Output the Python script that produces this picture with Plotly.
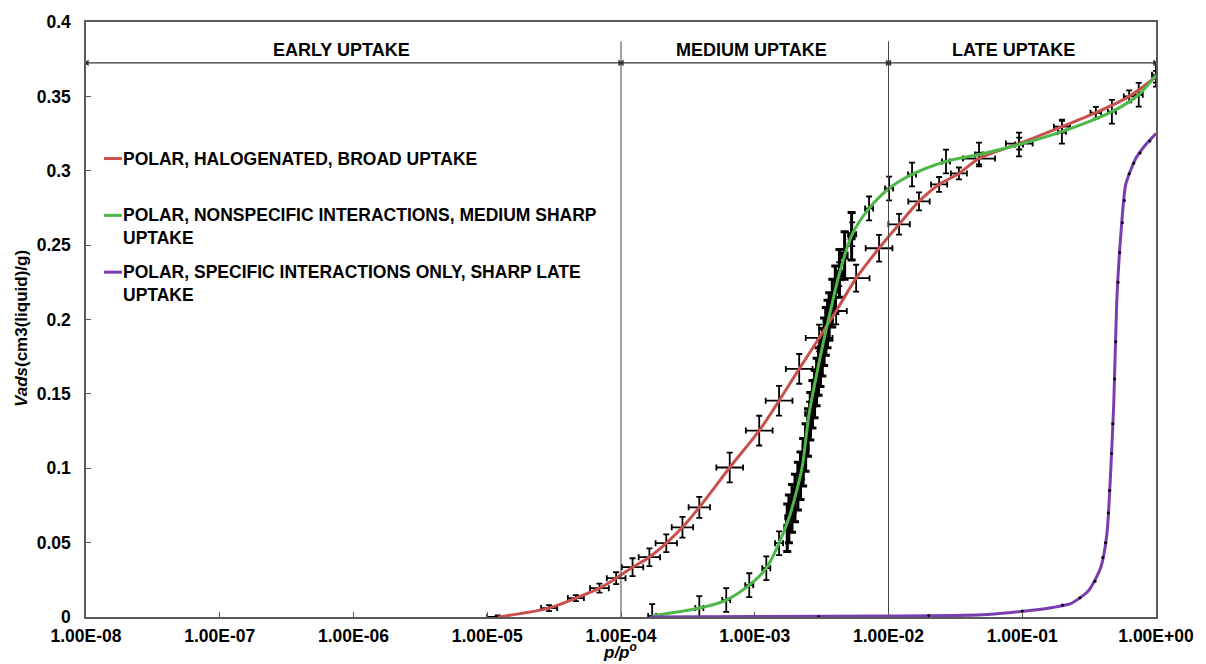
import math
import plotly.graph_objects as go

# ---------------- data ----------------
x_ticks = [1e-8, 1e-7, 1e-6, 1e-5, 1e-4, 1e-3, 1e-2, 1e-1, 1.0]
x_ticktext = ["1.00E-08", "1.00E-07", "1.00E-06", "1.00E-05", "1.00E-04",
              "1.00E-03", "1.00E-02", "1.00E-01", "1.00E+00"]
y_ticks = [0, 0.05, 0.1, 0.15, 0.2, 0.25, 0.3, 0.35, 0.4]
y_ticktext = ["0", "0.05", "0.1", "0.15", "0.2", "0.25", "0.3", "0.35", "0.4"]

red_name = "POLAR, HALOGENATED, BROAD UPTAKE"
red_x = [1.2e-5, 2.9e-5, 4.6e-5, 6.9e-5, 9.2e-5, 1.22e-4, 1.63e-4, 2.18e-4, 2.88e-4,
         3.85e-4, 6.5e-4, 1.08e-3, 1.52e-3, 2.15e-3, 3.03e-3, 4.06e-3, 5.73e-3,
         8.5e-3, 1.2e-2, 1.69e-2, 2.39e-2, 3.36e-2, 4.75e-2, 9.5e-2, 0.198, 0.355,
         0.63, 1.0]
red_y = [0.0, 0.006, 0.0127, 0.0194, 0.0261, 0.0335, 0.0402, 0.0496, 0.0603,
         0.0737, 0.1005, 0.1253, 0.1454, 0.1668, 0.1876, 0.2057, 0.2278,
         0.2479, 0.264, 0.2794, 0.2908, 0.2982, 0.3082, 0.3183, 0.3296, 0.339,
         0.350, 0.3632]
red_yerr = [0.001, 0.002, 0.002, 0.003, 0.004, 0.006, 0.006, 0.006, 0.007,
            0.007, 0.01, 0.01, 0.01, 0.01, 0.009, 0.009, 0.009,
            0.009, 0.007, 0.006, 0.005, 0.004, 0.004, 0.004, 0.004, 0.004,
            0.004, 0.004]
red_xerr_dec = [0.08, 0.06, 0.06, 0.07, 0.07, 0.08, 0.08, 0.08, 0.08,
                0.08, 0.1, 0.1, 0.1, 0.1, 0.1, 0.08, 0.1,
                0.1, 0.08, 0.08, 0.06, 0.06, 0.12, 0.1, 0.06, 0.04,
                0.04, 0.02]

green_name = "POLAR, NONSPECIFIC INTERACTIONS, MEDIUM SHARP<br>UPTAKE"
green_x = [1.71e-4, 3.85e-4, 6.12e-4, 9.1e-4, 1.22e-3, 1.52e-3, 1.81e-3, 1.97e-3,
           2.26e-3, 2.55e-3, 3.19e-3, 3.72e-3, 4.28e-3, 5.35e-3, 7.16e-3, 1.01e-2,
           1.5e-2, 2.69e-2, 4.75e-2, 9.46e-2, 0.198, 0.468, 0.743, 1.0]
green_y = [0.0007, 0.006, 0.0114, 0.0214, 0.0328, 0.0496, 0.067, 0.0784,
           0.1005, 0.1367, 0.1809, 0.2077, 0.2305, 0.2573, 0.2747, 0.2881,
           0.2975, 0.3062, 0.3109, 0.3176, 0.3263, 0.3397, 0.3511, 0.3645]
# dense measured points in the steep part of the green isotherm
green_meas_x = [1.75e-3, 1.8e-3, 1.9e-3, 2.0e-3, 2.1e-3, 2.2e-3, 2.3e-3, 2.4e-3, 2.5e-3,
                2.6e-3, 2.7e-3, 2.8e-3, 2.9e-3, 3.0e-3, 3.1e-3, 3.2e-3, 3.3e-3, 3.4e-3,
                3.5e-3, 3.6e-3, 3.8e-3, 4.0e-3, 4.3e-3, 4.7e-3, 5.3e-3]
green_meas_y = [0.060, 0.066, 0.073, 0.080, 0.088, 0.095, 0.104, 0.114, 0.124,
                0.135, 0.143, 0.150, 0.158, 0.165, 0.171, 0.178, 0.185, 0.192,
                0.197, 0.202, 0.211, 0.220, 0.231, 0.243, 0.256]

purple_name = "POLAR, SPECIFIC INTERACTIONS ONLY, SHARP LATE<br>UPTAKE"
purple_x = [1.63e-4, 1e-3, 1e-2, 5e-2, 0.133, 0.235, 0.315, 0.387, 0.43, 0.46,
            0.484, 0.509, 0.546, 0.594, 0.706, 0.839, 1.0]
purple_y = [0.0, 0.0003, 0.0006, 0.0015, 0.005, 0.0094, 0.018, 0.0335, 0.0563,
            0.1005, 0.1454, 0.2124, 0.2573, 0.2908, 0.3082, 0.3176, 0.325]
# measured points (small black dots) along the purple isotherm
purple_meas_x = [3e-3, 2e-2, 0.1, 0.2, 0.27, 0.35, 0.40, 0.42, 0.44, 0.45, 0.465,
                 0.475, 0.49, 0.50, 0.52, 0.535, 0.56, 0.58, 0.63, 0.68, 0.76, 0.9]
purple_meas_y = [0.0004, 0.001, 0.004, 0.008, 0.013, 0.024, 0.04, 0.05, 0.07, 0.085,
                 0.11, 0.13, 0.16, 0.185, 0.225, 0.245, 0.265, 0.28, 0.298, 0.305,
                 0.312, 0.32]

regions = ["EARLY UPTAKE", "MEDIUM UPTAKE", "LATE UPTAKE"]
region_bounds = [1e-8, 1e-4, 1e-2, 1.0]
region_label_x = [8.17e-7, 9.42e-4, 8.53e-2]

# ---------------- styles ----------------
RED = "#C9504B"
GREEN = "#4DB848"
PURPLE = "#7A3DB0"
FONT = "Liberation Sans, Arial, Helvetica, sans-serif"
AXIS_COL = "#5a5a5a"


def xerr(xs, decs):
    plus = [x * (10 ** d - 1) for x, d in zip(xs, decs)]
    minus = [x * (1 - 10 ** (-d)) for x, d in zip(xs, decs)]
    return plus, minus


fig = go.Figure()

# measured points with error bars (black)
rp, rm = xerr(red_x, red_xerr_dec)
fig.add_trace(go.Scatter(
    x=red_x, y=red_y, mode="markers", showlegend=False, hoverinfo="skip",
    marker=dict(size=2, color="black"),
    error_x=dict(type="data", array=rp, arrayminus=rm, color="black", thickness=1.8, width=3),
    error_y=dict(type="data", array=red_yerr, color="black", thickness=1.8, width=3),
))
gp, gm = xerr(green_x, [0.03] * len(green_x))
fig.add_trace(go.Scatter(
    x=green_x, y=green_y, mode="markers", showlegend=False, hoverinfo="skip",
    marker=dict(size=2, color="black"),
    error_x=dict(type="data", array=gp, arrayminus=gm, color="black", thickness=1.8, width=3),
    error_y=dict(type="data", array=[0.008] * len(green_y), color="black", thickness=1.8, width=3),
))
gmp, gmm = xerr(green_meas_x, [0.02] * len(green_meas_x))
fig.add_trace(go.Scatter(
    x=green_meas_x, y=green_meas_y, mode="markers", showlegend=False, hoverinfo="skip",
    marker=dict(size=4, color="black"),
    error_x=dict(type="data", array=gmp, arrayminus=gmm, color="black", thickness=2.5, width=4),
    error_y=dict(type="data", array=[0.016] * len(green_meas_y), color="black", thickness=3, width=4),
))

# fitted isotherm lines
fig.add_trace(go.Scatter(x=red_x, y=red_y, mode="lines", name=red_name, showlegend=False,
                         line=dict(color=RED, width=3, shape="spline", smoothing=0.8)))
fig.add_trace(go.Scatter(x=green_x, y=green_y, mode="lines", name=green_name, showlegend=False,
                         line=dict(color=GREEN, width=3, shape="spline", smoothing=0.8)))
fig.add_trace(go.Scatter(x=purple_x, y=purple_y, mode="lines", name=purple_name, showlegend=False,
                         line=dict(color=PURPLE, width=3, shape="spline", smoothing=0.6)))
fig.add_trace(go.Scatter(x=purple_meas_x, y=purple_meas_y, mode="markers", showlegend=False,
                         hoverinfo="skip", marker=dict(size=3, color="black")))

# region separators
for b in region_bounds[1:-1]:
    fig.add_trace(go.Scatter(x=[b, b], y=[0, 0.387], mode="lines", showlegend=False,
                             hoverinfo="skip", line=dict(color="#444444", width=1)))

# double-headed arrows marking the uptake regions
arrow_y = 0.3725
for i in range(len(regions)):
    x0 = region_bounds[i] * 1.02
    x1 = region_bounds[i + 1] / 1.02
    fig.add_trace(go.Scatter(
        x=[x0, x1], y=[arrow_y, arrow_y], mode="lines+markers", showlegend=False,
        hoverinfo="skip", line=dict(color="#333333", width=1.3),
        marker=dict(symbol=["triangle-left", "triangle-right"], size=6, color="#333333",
                    line=dict(width=0)),
    ))

annotations = []
for i, name in enumerate(regions):
    annotations.append(dict(x=math.log10(region_label_x[i]), y=0.381, xref="x", yref="y",
                            text="<b>%s</b>" % name, showarrow=False,
                            font=dict(family=FONT, size=18, color="black")))

# manual legend
W, H = 1071.0, 597.0
legend_items = [(red_name, RED, 158), (green_name, GREEN, 215), (purple_name, PURPLE, 272)]
shapes = []
for name, col, py in legend_items:
    yp = (617 - py) / H
    shapes.append(dict(type="line", xref="paper", yref="paper",
                       x0=(104 - 86) / W, x1=(122 - 86) / W, y0=yp + 1 / H, y1=yp + 1 / H,
                       line=dict(color=col, width=3)))
    annotations.append(dict(x=(122 - 86) / W, y=(617 - (py - 12)) / H, xref="paper", yref="paper",
                            xanchor="left", yanchor="top", align="left", showarrow=False,
                            text="<b>%s</b>" % name, borderpad=0,
                            font=dict(family=FONT, size=17.5, color="black")))

# axis titles
annotations.append(dict(x=(22 - 86) / W, y=(617 - 328) / H, xref="paper", yref="paper",
                        xanchor="center", yanchor="middle",
                        text="<b><i>Vads</i>(cm3(liquid)/g)</b>", textangle=-90,
                        showarrow=False, font=dict(family=FONT, size=17, color="black")))
annotations.append(dict(x=(620 - 86) / W, y=(617 - 651) / H, xref="paper", yref="paper",
                        xanchor="center", yanchor="middle",
                        text="<b><i>p/p<sup>o</sup></i></b>", showarrow=False,
                        font=dict(family=FONT, size=17, color="black")))

fig.update_layout(
    width=1206, height=664,
    margin=dict(l=86, r=49, t=20, b=47, pad=0),
    paper_bgcolor="white", plot_bgcolor="white",
    font=dict(family=FONT, size=17.5, color="black"),
    showlegend=False,
    annotations=annotations,
    shapes=shapes,
)
fig.update_xaxes(type="log", range=[-8, 0], tickvals=x_ticks, ticktext=x_ticktext,
                 showgrid=False, zeroline=False, showline=True, linecolor=AXIS_COL,
                 linewidth=1.5, mirror=True, ticks="inside", ticklen=5, tickcolor=AXIS_COL,
                 tickfont=dict(family=FONT, size=17.5, color="black", weight="bold"),
                 ticklabelstandoff=2)
fig.update_yaxes(range=[0, 0.4], tickvals=y_ticks, ticktext=y_ticktext,
                 showgrid=False, zeroline=False, showline=True, linecolor=AXIS_COL,
                 linewidth=1.5, mirror=True, ticks="inside", ticklen=5, tickcolor=AXIS_COL,
                 tickfont=dict(family=FONT, size=17.5, color="black", weight="bold"),
                 ticklabelstandoff=10)

fig.write_html("out.html")
